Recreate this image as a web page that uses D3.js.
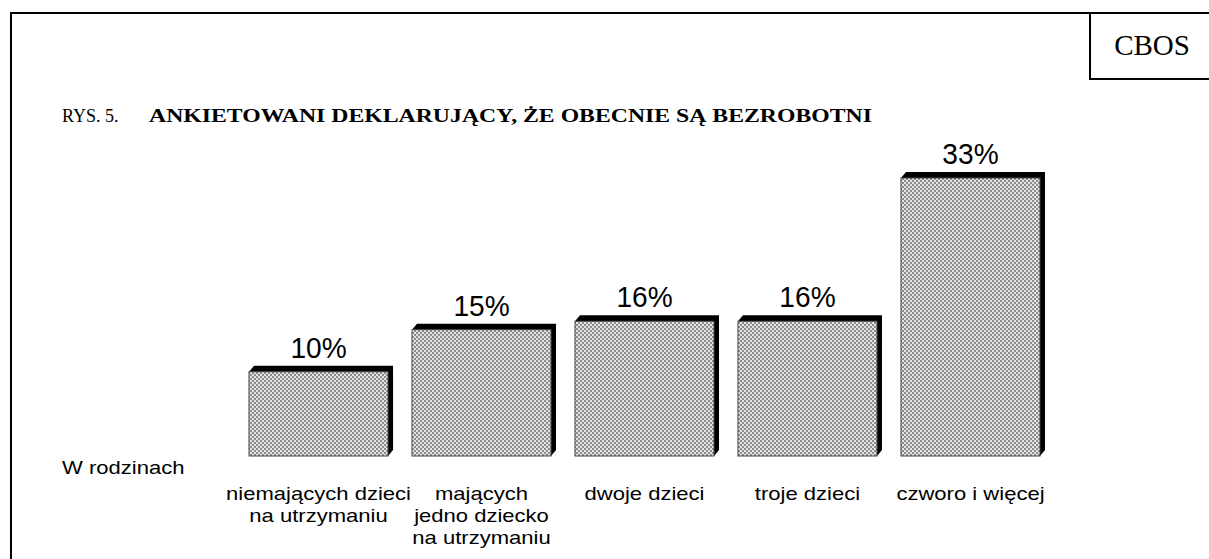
<!DOCTYPE html>
<html>
<head>
<meta charset="utf-8">
<script src="https://cdn.jsdelivr.net/npm/d3@7"></script>
<style>
body { margin: 0; background: #fff; }
</style>
</head>
<body>
<div id="chart"></div>
<script>
var categories = [
	["niemających dzieci", "na utrzymaniu"],
	["mających", "jedno dziecko", "na utrzymaniu"],
	["dwoje dzieci"],
	["troje dzieci"],
	["czworo i więcej"]
];
var values = [10, 15, 16, 16, 33];
var valueLabels = ["10%", "15%", "16%", "16%", "33%"];

var width = 1209, height = 559;
var depthX = 5, depthY = 6;
var serif = "'Liberation Serif', 'Times New Roman', serif",
	sans = "Arial, 'Liberation Sans', sans-serif";

var svg = d3.select("#chart").append("svg")
	.attr("width", width)
	.attr("height", height);

var defs = svg.append("defs");
var pat = defs.append("pattern")
	.attr("id", "checker")
	.attr("patternUnits", "userSpaceOnUse")
	.attr("width", 4)
	.attr("height", 4);
pat.append("rect").attr("width", 4).attr("height", 4).attr("fill", "#e4e4e4");
pat.append("rect").attr("width", 2).attr("height", 2).attr("fill", "#8c8c8c");
pat.append("rect").attr("x", 2).attr("y", 2).attr("width", 2).attr("height", 2).attr("fill", "#8c8c8c");

//text in the scan is a bit wider than normal, so allow a horizontal stretch
function stretchedText(x, y, txt, anchor, family, size, stretch, weight) {
	return svg.append("text")
		.attr("transform", "translate(" + x + "," + y + ") scale(" + stretch + ",1)")
		.attr("text-anchor", anchor)
		.style("font-family", family)
		.style("font-size", size + "px")
		.style("font-weight", weight || "normal")
		.style("fill", "#000")
		.text(txt);
}

//frame
svg.append("path")
	.attr("d", "M1209,13 H11 V559")
	.attr("fill", "none")
	.attr("stroke", "#000")
	.attr("stroke-width", 2);
svg.append("path")
	.attr("d", "M1090,13 V79 H1209")
	.attr("fill", "none")
	.attr("stroke", "#000")
	.attr("stroke-width", 2);
stretchedText(1152, 55, "CBOS", "middle", serif, 29, 1.0);

//title
stretchedText(62, 122, "RYS. 5.", "start", serif, 19, 0.95);
stretchedText(149, 122, "ANKIETOWANI DEKLARUJĄCY, ŻE OBECNIE SĄ BEZROBOTNI", "start", serif, 19, 1.25, "bold");

var x = d3.scaleBand()
	.domain(d3.range(values.length))
	.range([249, 1040])
	.paddingInner(0.147)
	.paddingOuter(0);
var y = d3.scaleLinear()
	.domain([0, 33])
	.range([456, 178]);

var bars = svg.selectAll(".bar")
	.data(values)
	.enter().append("g")
	.attr("class", "bar");

//dark 3d edge, top and right
bars.append("path")
	.attr("fill", "#000")
	.attr("d", function(d, i) {
		var x0 = x(i), x1 = x(i) + x.bandwidth(), y0 = y(d), y1 = y(0);
		return "M" + x0 + "," + y0 +
			"L" + (x0 + depthX) + "," + (y0 - depthY) +
			"L" + (x1 + depthX) + "," + (y0 - depthY) +
			"L" + (x1 + depthX) + "," + (y1 - depthY) +
			"L" + x1 + "," + y1 + "Z";
	});
bars.append("rect")
	.attr("x", function(d, i) { return x(i); })
	.attr("y", function(d) { return y(d); })
	.attr("width", x.bandwidth())
	.attr("height", function(d) { return y(0) - y(d); })
	.attr("fill", "url(#checker)")
	.attr("stroke", "#444")
	.attr("stroke-width", 1);

values.forEach(function(d, i) {
	stretchedText(x(i) + x.bandwidth() / 2, y(d) - 14, valueLabels[i], "middle", sans, 29, 0.97);
});

stretchedText(62, 474, "W rodzinach", "start", sans, 19, 1.16);
categories.forEach(function(lines, i) {
	lines.forEach(function(line, j) {
		stretchedText(x(i) + x.bandwidth() / 2, 500 + j * 22, line, "middle", sans, 19, 1.16);
	});
});
</script>
</body>
</html>
